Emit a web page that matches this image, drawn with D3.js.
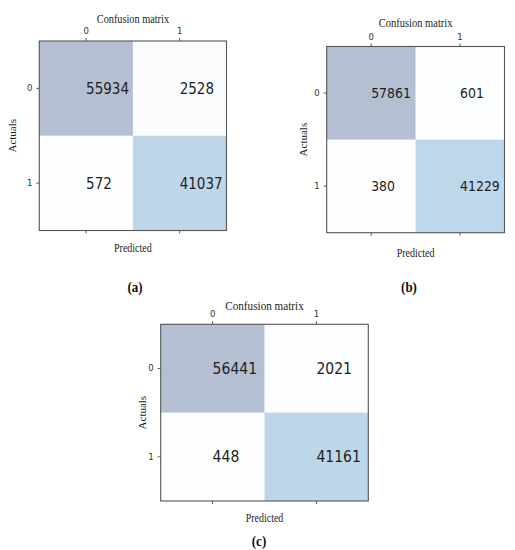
<!DOCTYPE html>
<html>
<head>
<meta charset="utf-8">
<script src="https://cdn.jsdelivr.net/npm/d3@7"></script>
<style>
  body { margin: 0; background: #fff; }
  svg { display: block; }
</style>
</head>
<body>
<svg id="chart" width="515" height="550"></svg>
<script>
var classes = ["0", "1"];
var matrixA = [[55934, 2528], [572, 41037]];
var matrixB = [[57861, 601], [380, 41229]];
var matrixC = [[56441, 2021], [448, 41161]];
var panelTags = ["(a)", "(b)", "(c)"];
var titleText = "Confusion matrix";
var xLabelText = "Predicted";
var yLabelText = "Actuals";

// where each panel sits on the page
var layout = [
    { x0: 39.3, y0: 41, x1: 226.5, y1: 230.5, num: 13.5, title: 10.3, titleY: 19, xlabY: 248, ylabX: 12, tagX: 135, tagY: 287 },
    { x0: 326.7, y0: 46.5, x1: 504.5, y1: 232.7, num: 12.5, title: 10.5, titleY: 23, xlabY: 253, ylabX: 303, tagX: 409, tagY: 287 },
    { x0: 160.7, y0: 324.3, x1: 368.3, y1: 501, num: 14, title: 11.2, titleY: 305, xlabY: 518, ylabX: 142, tagX: 259, tagY: 541 }
];
var matrices = [matrixA, matrixB, matrixC];

var svg = d3.select("#chart");
var sy = 1.15; // the source image is a little stretched vertically

function stretchedText(g, x, y, txt, size, family, anchor) {
    return g.append("text")
        .attr("transform", "translate(" + x + "," + y + ") scale(1," + sy + ")")
        .attr("dy", "0.35em")
        .attr("text-anchor", anchor || "middle")
        .style("font-family", family)
        .style("font-size", size + "px")
        .style("fill", "#1e1e1e")
        .text(txt);
}

matrices.forEach(function(m, i) {
    var L = layout[i];
    var g = svg.append("g");

    var x = d3.scaleBand().domain(classes).range([L.x0, L.x1]);
    var y = d3.scaleBand().domain(classes).range([L.y0, L.y1]);
    var flat = d3.merge(m);
    var color = d3.scaleSequential(d3.interpolateBlues).domain([d3.min(flat), d3.max(flat)]);

    var cells = [];
    m.forEach(function(row, r) {
        row.forEach(function(v, c) { cells.push({ r: classes[r], c: classes[c], v: v }); });
    });

    g.selectAll("rect.cell")
        .data(cells)
        .enter().append("rect")
        .attr("class", "cell")
        .attr("x", function(d) { return x(d.c); })
        .attr("y", function(d) { return y(d.r); })
        .attr("width", x.bandwidth())
        .attr("height", y.bandwidth())
        .style("fill", function(d) { return color(d.v); })
        .style("fill-opacity", 0.3);

    // cell counts, left aligned on the column centre like matplotlib's text()
    cells.forEach(function(d) {
        stretchedText(g, x(d.c) + x.bandwidth() / 2, y(d.r) + y.bandwidth() / 2, d.v, L.num, "DejaVu Sans", "start");
    });

    g.append("rect")
        .attr("x", L.x0).attr("y", L.y0)
        .attr("width", L.x1 - L.x0).attr("height", L.y1 - L.y0)
        .style("fill", "none")
        .style("stroke", "#555")
        .style("stroke-width", 1.1);

    var top = g.append("g").attr("transform", "translate(0," + L.y0 + ")")
        .call(d3.axisTop(x).tickSize(3).tickPadding(4));
    var bottom = g.append("g").attr("transform", "translate(0," + L.y1 + ")")
        .call(d3.axisBottom(x).tickSize(3).tickFormat(""));
    var left = g.append("g").attr("transform", "translate(" + L.x0 + ",0)")
        .call(d3.axisLeft(y).tickSize(3).tickPadding(4));

    [top, bottom, left].forEach(function(a) {
        a.select(".domain").remove();
        a.selectAll("line").style("stroke", "#555");
        a.selectAll("text")
            .style("font-family", "DejaVu Sans")
            .style("font-size", "8.5px")
            .style("fill", "#333");
    });

    var cx = (L.x0 + L.x1) / 2, cy = (L.y0 + L.y1) / 2;
    stretchedText(g, cx, L.titleY, titleText, L.title, "Liberation Serif");
    stretchedText(g, cx, L.xlabY, xLabelText, 10, "Liberation Serif");
    g.append("text")
        .attr("transform", "translate(" + L.ylabX + "," + cy + ") rotate(-90) scale(1.1,1)")
        .attr("dy", "0.35em")
        .attr("text-anchor", "middle")
        .style("font-family", "Liberation Serif")
        .style("font-size", "10px")
        .style("fill", "#1e1e1e")
        .text(yLabelText);
    stretchedText(g, L.tagX, L.tagY, panelTags[i], 13, "Liberation Serif")
        .style("font-weight", "bold")
        .style("fill", "#111");
});
</script>
</body>
</html>
